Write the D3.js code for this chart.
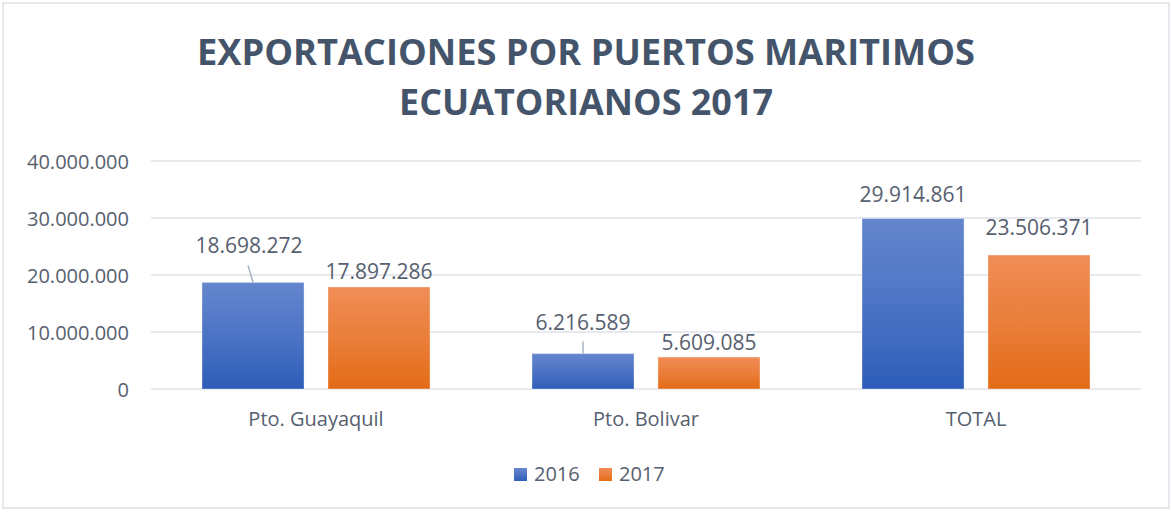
<!DOCTYPE html>
<html>
<head>
<meta charset="utf-8">
<script src="https://cdn.jsdelivr.net/npm/d3@7"></script>
<style>
  html, body { margin: 0; padding: 0; background: #fff; }
  svg { display: block; font-family: "Open Sans", sans-serif; }
</style>
</head>
<body>
<svg id="chart" width="1172" height="512"></svg>
<script>
// ====== DATOS ======
const puertos = ['Pto. Guayaquil', 'Pto. Bolivar', 'TOTAL'];
const anios = ['2016', '2017'];
const valores2016 = [18698272, 6216589, 29914861];
const valores2017 = [17897286, 5609085, 23506371];
const yTicks = [0, 10000000, 20000000, 30000000, 40000000];
const titulo = ['EXPORTACIONES POR PUERTOS MARITIMOS', 'ECUATORIANOS 2017'];

// distancia de la etiqueta sobre la barra (movidas a mano en el original)
const lift2016 = [29, 24, 16];
const lift2017 = [8, 7, 20];

// ====== CONFIG ======
const W = 1172, H = 512;
const margin = { left: 151, right: 31, top: 161, bottom: 123 };
const textColor = '#56606f';
const titleColor = '#44546a';

const svg = d3.select('#chart');
const fmt = d3.formatLocale({ decimal: ',', thousands: '.', grouping: [3], currency: ['', ''] }).format(',d');

// gradientes
const defs = svg.append('defs');
const grads = [
  { id: 'g2016', top: '#6586ce', bottom: '#2d5db9' },
  { id: 'g2017', top: '#f08d56', bottom: '#e36b17' }
];
grads.forEach(g => {
  const lg = defs.append('linearGradient').attr('id', g.id)
    .attr('x1', 0).attr('y1', 0).attr('x2', 0).attr('y2', 1);
  lg.append('stop').attr('offset', '0%').attr('stop-color', g.top);
  lg.append('stop').attr('offset', '50%').attr('stop-color', d3.interpolateRgb(g.top, g.bottom)(0.45));
  lg.append('stop').attr('offset', '100%').attr('stop-color', g.bottom);
});

// borde del grafico
svg.append('rect')
  .attr('x', 3).attr('y', 3).attr('width', W - 6).attr('height', H - 7)
  .attr('fill', '#fff').attr('stroke', '#dde1e8').attr('stroke-width', 1.5);

// titulo
const tY = [65, 115];
titulo.forEach((t, i) => {
  const el = svg.append('text')
    .attr('x', 586).attr('y', tY[i])
    .attr('text-anchor', 'middle')
    .attr('fill', titleColor)
    .attr('font-weight', 'bold')
    .attr('font-size', 36)
    .text(t);
  const target = i === 0 ? 778 : 374;
  el.attr('textLength', target).attr('lengthAdjust', 'spacingAndGlyphs');
});

// escalas
const x0 = d3.scaleBand().domain(puertos).range([margin.left, W - margin.right]).paddingInner(0).paddingOuter(0);
const groupW = 228;
const x1 = d3.scaleBand().domain(anios).range([0, groupW]).paddingInner(0.19);
const y = d3.scaleLinear().domain([0, 40000000]).range([H - margin.bottom, margin.top]);

// cuadricula
svg.append('g').selectAll('line').data(yTicks).enter().append('line')
  .attr('x1', margin.left).attr('x2', W - margin.right)
  .attr('y1', d => y(d)).attr('y2', d => y(d))
  .attr('stroke', '#dfe2e8').attr('stroke-width', 1.5);

// eje y
const yAxis = svg.append('g')
  .attr('transform', `translate(${margin.left - 22},0)`)
  .call(d3.axisLeft(y).tickValues(yTicks).tickSize(0).tickPadding(0).tickFormat(fmt));
yAxis.select('.domain').remove();
yAxis.selectAll('text')
  .attr('fill', textColor).attr('font-size', 20).attr('font-family', '"Open Sans", sans-serif')
  .attr('dy', '0.35em');

// eje x
const xAxis = svg.append('g')
  .attr('transform', `translate(0,${H - margin.bottom})`)
  .call(d3.axisBottom(x0).tickSize(0).tickPadding(23));
xAxis.select('.domain').remove();
xAxis.selectAll('text')
  .attr('fill', textColor).attr('font-size', 20).attr('font-family', '"Open Sans", sans-serif');

// barras
const series = [
  { key: '2016', vals: valores2016, lift: lift2016, fill: 'url(#g2016)' },
  { key: '2017', vals: valores2017, lift: lift2017, fill: 'url(#g2017)' }
];

const barsG = svg.append('g');
series.forEach(s => {
  puertos.forEach((p, i) => {
    const bx = x0(p) + (x0.bandwidth() - groupW) / 2 + x1(s.key);
    const by = y(s.vals[i]);
    const bw = x1.bandwidth();
    barsG.append('rect')
      .attr('x', bx).attr('y', by)
      .attr('width', bw).attr('height', y(0) - by)
      .attr('fill', s.fill)
      .attr('stroke', 'rgba(255,255,255,0.35)').attr('stroke-width', 1);

    const cx = bx + bw / 2;
    const ly = by - s.lift[i];
    if (s.lift[i] > 22) {
      // linea guia
      barsG.append('line')
        .attr('x1', cx).attr('y1', by)
        .attr('x2', cx - (i === 0 ? 5 : 0)).attr('y2', ly + 12)
        .attr('stroke', '#a9b4c2').attr('stroke-width', 1.5);
    }
    barsG.append('text')
      .attr('x', cx - (s.lift[i] > 22 && i === 0 ? 4 : 0)).attr('y', ly)
      .attr('text-anchor', 'middle')
      .attr('fill', textColor)
      .attr('font-size', 21)
      .text(fmt(s.vals[i]));
  });
});

// leyenda
const legend = svg.append('g').attr('transform', 'translate(514,468)');
const legX = [0, 85];
series.forEach((s, i) => {
  const g = legend.append('g').attr('transform', `translate(${legX[i]},0)`);
  g.append('rect').attr('width', 13).attr('height', 13).attr('fill', s.fill);
  g.append('text').attr('x', 20).attr('y', 13)
    .attr('fill', textColor).attr('font-size', 20).text(s.key);
});
</script>
</body>
</html>
